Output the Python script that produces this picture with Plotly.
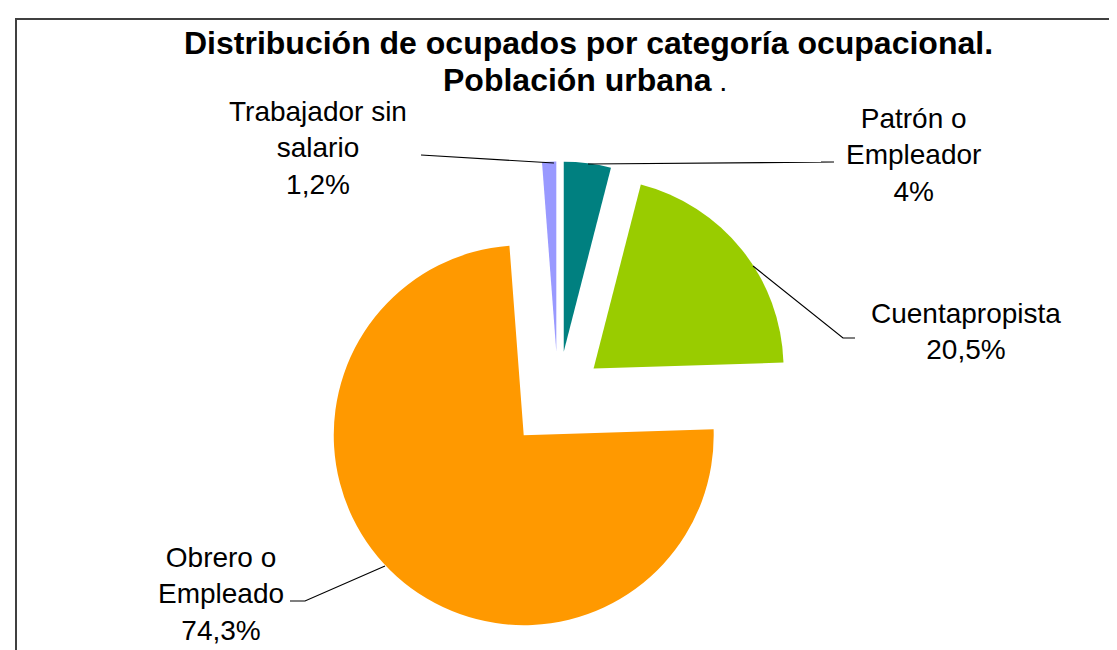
import plotly.graph_objects as go

# datos (porcentaje de ocupados, población urbana)
categorias = ["Patrón o Empleador", "Cuentapropista", "Obrero o Empleado", "Trabajador sin salario"]
etiquetas = ["Patrón o<br>Empleador", "Cuentapropista", "Obrero o<br>Empleado", "Trabajador sin<br>salario"]
porcentajes = [4.0, 20.5, 74.3, 1.2]
colores = ["#008080", "#99CC00", "#FF9900", "#9999FF"]
separacion = [0.24, 0.24, 0.27, 0.24]

titulo1 = "Distribución de ocupados por categoría ocupacional."
titulo2 = "Población urbana"

W, H = 1117, 650
FONT = "Liberation Sans, Arial, sans-serif"


def px(x, y):
    # pixel -> paper
    return x / W, 1 - y / H


def fmt(v):
    return f"{v:g}".replace(".", ",") + "%"


fig = go.Figure()
fig.add_trace(go.Pie(
    labels=categorias,
    values=porcentajes,
    sort=False,
    direction="clockwise",
    rotation=0,
    pull=separacion,
    marker=dict(colors=colores, line=dict(width=0)),
    textinfo="none",
    hoverinfo="label+percent",
    showlegend=False,
    domain=dict(x=[0.2764, 0.7084], y=[0.0303, 0.7728]),
))

# posiciones de las etiquetas (centro, px) y lineas guia
pos_etiquetas = [(905, 147), (958, 323), (213, 586), (310, 140)]
guias = [
    [(813, 154), (826, 154), (580, 156)],
    [(847, 330), (835, 330), (745, 258)],
    [(282, 593), (297, 593), (377, 558)],
    [(413, 147), (546, 155)],
]

annotations = []
shapes = []
for lab, val, (cx, cy), pts in zip(etiquetas, porcentajes, pos_etiquetas, guias):
    x, y = px(cx, cy)
    annotations.append(dict(
        x=x, y=y, xref="paper", yref="paper", xanchor="center", yanchor="middle",
        text=f"{lab}<br>{fmt(val)}", showarrow=False, align="center",
        font=dict(family=FONT, size=28, color="#000000"),
    ))
    path = ""
    for i, (a, b) in enumerate(pts):
        u, v = px(a, b)
        path += ("M" if i == 0 else " L") + f" {u:.5f} {v:.5f}"
    shapes.append(dict(type="path", path=path, xref="paper", yref="paper",
                       line=dict(color="#000000", width=1.2)))

# titulo (dos lineas)
for txt, (cx, cy) in [
    (f"<b>{titulo1}</b>", (580, 35)),
    (f"<b>{titulo2}&nbsp;</b><span style='font-size:20px'><b>.</b></span>", (576, 72)),
]:
    x, y = px(cx, cy)
    annotations.append(dict(
        x=x, y=y, xref="paper", yref="paper", xanchor="center", yanchor="middle",
        text=txt, showarrow=False, align="center",
        font=dict(family=FONT, size=32, color="#000000"),
    ))

# marco del grafico
x0, y0 = px(8, 11)
x1, y1 = px(1140, 680)
shapes.append(dict(type="rect", xref="paper", yref="paper", x0=x0, y0=y1, x1=x1, y1=y0,
                   line=dict(color="#404040", width=2), fillcolor="rgba(0,0,0,0)"))

fig.update_layout(
    width=W, height=H,
    margin=dict(l=0, r=0, t=0, b=0),
    paper_bgcolor="white",
    plot_bgcolor="white",
    annotations=annotations,
    shapes=shapes,
)

fig.write_html("out.html")
